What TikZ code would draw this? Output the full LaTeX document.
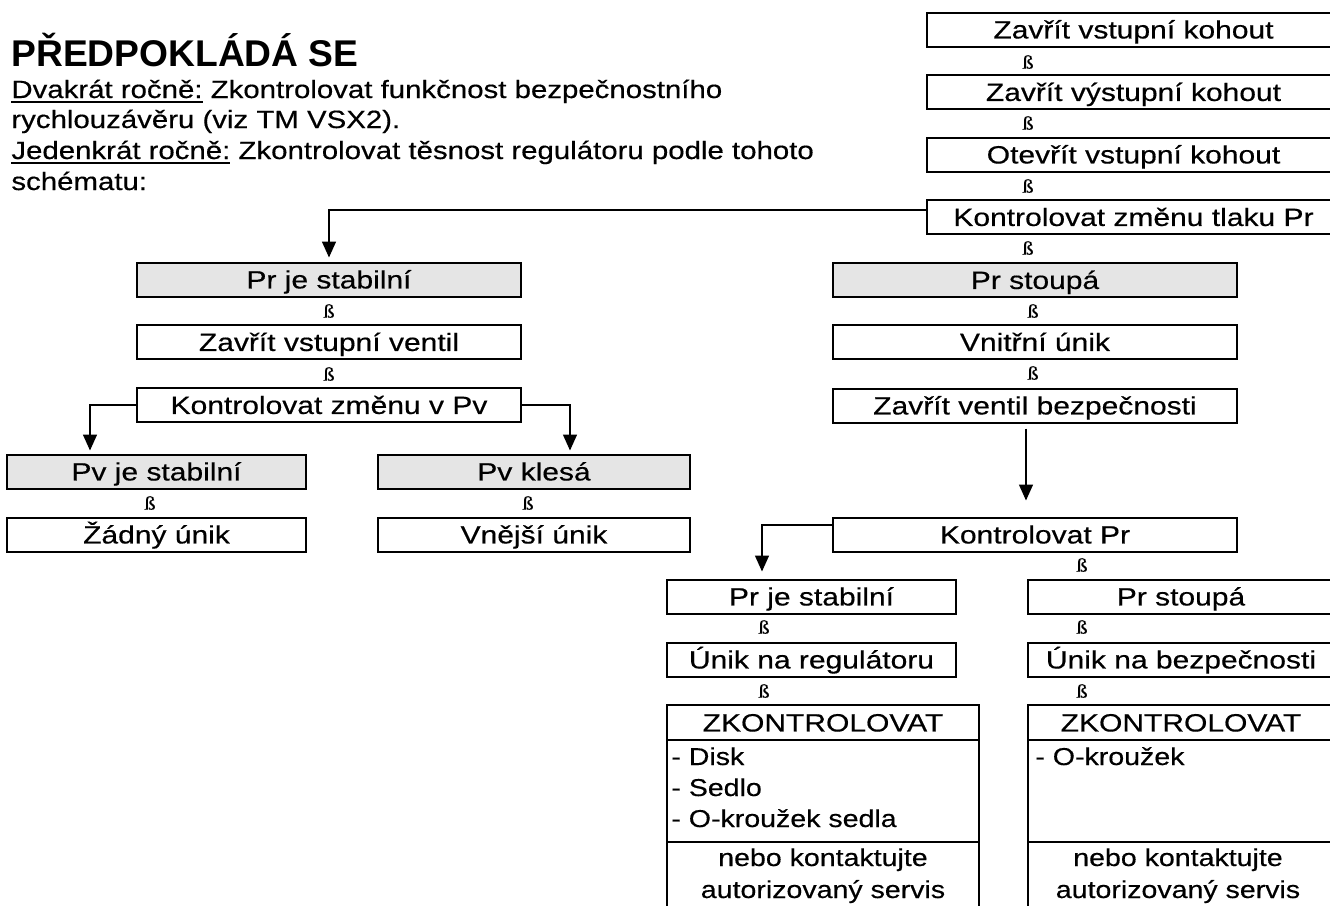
\documentclass[tikz,border=0pt]{standalone}
\usepackage{fontspec}
\setmainfont{Liberation Sans}
\newfontfamily\boxf{Liberation Sans}[FakeStretch=1.2,FakeBold=0.4]
\newfontfamily\parf{Liberation Sans}[FakeStretch=1.176,FakeBold=0.4]
\newfontfamily\chkf{Liberation Sans}[FakeStretch=1.17,FakeBold=0.4]
\newfontfamily\ssf{Liberation Serif}[FakeStretch=1.2,FakeBold=0.6]
\usetikzlibrary{arrows.meta}
\newcommand\myul[1]{\setbox0\hbox{#1}\rlap{\rule[-2.6pt]{\wd0}{0.9pt}}\box0\relax}
\tikzset{
  bx/.style={draw, line width=1pt, minimum height=17pt, inner sep=0pt,
             text height=8.95pt, text depth=0pt, font=\boxf\fontsize{12.5}{15}\selectfont},
  gbx/.style={bx, fill=gray!20},
  plain/.style={draw, line width=1pt, inner sep=0pt},
  conn/.style={line width=0.75pt},
  arr/.style={conn, -{Triangle[length=8pt,width=7pt]}},
  ss/.style={font=\ssf\fontsize{9.5}{10}\selectfont, inner sep=0pt},
  txt/.style={inner sep=0pt, text height=8.5pt, font=\parf\fontsize{12.5}{15}\selectfont},
  chk/.style={inner sep=0pt, text height=8.5pt, font=\chkf\fontsize{12.2}{15}\selectfont},
}
\begin{document}
\begin{tikzpicture}[x=0.5pt,y=-0.5pt]
\useasboundingbox (0,0) rectangle (1330,906);
\clip (0,0) rectangle (1330,906);

% heading text
\node[anchor=base west, inner sep=0pt, text depth=0pt, font=\bfseries\fontsize{18.6}{21}\selectfont] (title) at (11,66) {PŘEDPOKLÁDÁ SE};
\node[txt, anchor=base west] (p1) at (11,98) {\myul{Dvakrát ročně:} Zkontrolovat funkčnost bezpečnostního};
\node[txt, anchor=base west] (p2) at (11,128) {rychlouzávěru (viz TM VSX2).};
\node[txt, anchor=base west] (p3) at (11,159) {\myul{Jedenkrát ročně:} Zkontrolovat těsnost regulátoru podle tohoto};
\node[txt, anchor=base west] (p4) at (11,190) {schématu:};

% top right column
\node[bx, minimum width=206.5pt] (t1) at (1133.5,29.5) {Zavřít vstupní kohout};
\node[ss] (s1) at (1028,62) {ß};
\node[bx, minimum width=206.5pt] (t2) at (1133.5,92) {Zavřít výstupní kohout};
\node[ss] (s2) at (1028,123) {ß};
\node[bx, minimum width=206.5pt] (t3) at (1133.5,154.5) {Otevřít vstupní kohout};
\node[ss] (s3) at (1028,186) {ß};
\node[bx, minimum width=206.5pt] (t4) at (1133.5,217) {Kontrolovat změnu tlaku Pr};
\node[ss] (s4) at (1028,248) {ß};

% upper left column
\node[gbx, minimum width=192pt] (l1) at (329,279.5) {Pr je stabilní};
\node[ss] (s5) at (329,311) {ß};
\node[bx, minimum width=192pt] (l2) at (329,342) {Zavřít vstupní ventil};
\node[ss] (s6) at (329,374) {ß};
\node[bx, minimum width=192pt] (l3) at (329,405) {Kontrolovat změnu v Pv};

\node[gbx, minimum width=149.5pt] (pv1) at (156.5,471.5) {Pv je stabilní};
\node[gbx, minimum width=156pt] (pv2) at (534,471.5) {Pv klesá};
\node[ss] (s7) at (150,503) {ß};
\node[ss] (s8) at (528,503) {ß};
\node[bx, minimum width=149.5pt] (zu) at (156.5,534.5) {Žádný únik};
\node[bx, minimum width=156pt] (vu) at (534,534.5) {Vnější únik};

% right column
\node[gbx, minimum width=202pt] (r1) at (1035,280) {Pr stoupá};
\node[ss] (s9) at (1033,311) {ß};
\node[bx, minimum width=202pt] (r2) at (1035,342) {Vnitřní únik};
\node[ss] (s10) at (1033,373) {ß};
\node[bx, minimum width=202pt] (r3) at (1035,405.5) {Zavřít ventil bezpečnosti};
\node[bx, minimum width=202pt] (k) at (1035,534.5) {Kontrolovat Pr};
\node[ss] (s11) at (1082,565) {ß};

% lower columns
\node[bx, minimum width=144.5pt] (ll1) at (811.5,596.5) {Pr je stabilní};
\node[bx, minimum width=153pt] (lr1) at (1181,596.5) {Pr stoupá};
\node[ss] (s12) at (764,627) {ß};
\node[ss] (s13) at (1082,627) {ß};
\node[bx, minimum width=144.5pt] (ll2) at (811.5,659.5) {Únik na regulátoru};
\node[bx, minimum width=153pt] (lr2) at (1181,659.5) {Únik na bezpečnosti};
\node[ss] (s14) at (764,691) {ß};
\node[ss] (s15) at (1082,691) {ß};

% check boxes
\node[bx, minimum width=156pt, minimum height=17.5pt] (zh1) at (823,722.5) {ZKONTROLOVAT};
\node[plain, minimum width=156pt, minimum height=51pt] (zb1) at (823,791) {};
\node[plain, minimum width=156pt, minimum height=37pt] (zf1) at (823,879) {};
\node[chk, anchor=base west] (d1) at (671,765) {- Disk};
\node[chk, anchor=base west] (d2) at (671,796) {- Sedlo};
\node[chk, anchor=base west] (d3) at (671,827) {- O-kroužek sedla};
\node[chk, anchor=base] (f1) at (823,866) {nebo kontaktujte};
\node[chk, anchor=base] (f2) at (823,898) {autorizovaný servis};

\node[bx, minimum width=153pt, minimum height=17.5pt] (zh2) at (1181,722.5) {ZKONTROLOVAT};
\node[plain, minimum width=153pt, minimum height=51pt] (zb2) at (1181,791) {};
\node[plain, minimum width=153pt, minimum height=37pt] (zf2) at (1181,879) {};
\node[chk, anchor=base west] (d4) at (1035,765) {- O-kroužek};
\node[chk, anchor=base] (f3) at (1178,866) {nebo kontaktujte};
\node[chk, anchor=base] (f4) at (1178,898) {autorizovaný servis};

% connectors
\draw[arr, shorten >=2pt] ([yshift=3.5pt]t4.west) -| (l1.north);
\draw[arr, shorten >=1.5pt] (l3.west) -| ([xshift=-33.25pt]pv1.north);
\draw[arr, shorten >=1.5pt] (l3.east) -| ([xshift=18pt]pv2.north);
\draw[arr, shorten <=2.5pt, shorten >=8pt] ([xshift=-4.5pt]r3.south) -- ([xshift=-4.5pt]k.north);
\draw[arr, shorten >=3.5pt] ([yshift=4.75pt]k.west) -| ([xshift=-24.75pt]ll1.north);
\end{tikzpicture}
\end{document}
